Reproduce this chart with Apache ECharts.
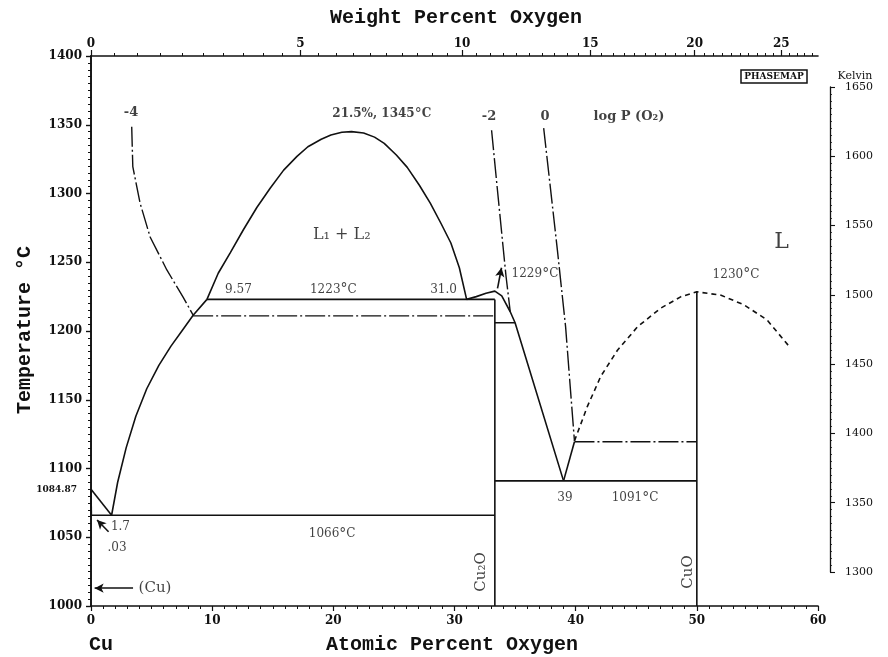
<!DOCTYPE html>
<html><head><meta charset="utf-8">
<script src="https://cdn.jsdelivr.net/npm/echarts@6/dist/echarts.min.js"></script>
<style>html,body{margin:0;padding:0;background:#fff}#c{width:888px;height:657px}</style>
</head><body><div id="c"></div><script>
// ---------- axis ticks ----------
const tempTicks = [1000,1050,1100,1150,1200,1250,1300,1350,1400];
const atomicTicks = [0,10,20,30,40,50,60];
const weightTicks = [0,5,10,15,20,25];
const kelvinTicks = [1300,1350,1400,1450,1500,1550,1600,1650];

// ---------- phase boundaries [at.% O, °C] ----------
const cuLiquidus = [[0,1084.87],[1.7,1066]];
const cuSolidus = [[0,1084.87],[0.03,1066]];
const l1Liquidus = [[1.7,1066],[2.2,1090],[2.9,1115],[3.7,1138],[4.6,1158],[5.6,1175],[6.6,1189],[7.5,1200],[8.43,1211.5],[9.57,1223]];
const miscibilityGap = [[9.57,1223],[10.5,1242],[11.5,1257],[12.6,1274],[13.7,1290],[14.8,1304],[15.9,1317],[17.0,1327],[17.9,1334],[19.0,1339.5],[19.8,1342.5],[20.7,1344.5],[21.5,1345],[22.5,1344],[23.4,1341],[24.2,1336.5],[25.2,1328],[26.1,1319],[27.1,1306],[28.0,1293],[28.9,1278],[29.7,1264],[30.4,1246],[31.0,1223]];
const cu2oLiquidus = [[31.0,1223],[31.8,1225],[32.6,1227.5],[33.33,1229],[33.9,1225.5],[34.6,1214],[35.0,1206],[39,1091]];
const rightLiquidus = [[39,1091],[39.9,1119.5]];
const cuoLiquidus = [[39.9,1120],[40.96,1145],[42.07,1167],[43.45,1186],[45.1,1203],[47.0,1216.5],[48.7,1225],[50.0,1228.5],[52.0,1226],[53.9,1219],[55.8,1208],[57.6,1189]];
const eutectic1066 = [[0,1066],[33.33,1066]];
const monotectic1223 = [[9.57,1223],[33.33,1223]];
const line1206 = [[33.33,1206],[35.0,1206]];
const eutectic1091 = [[33.33,1091],[50,1091]];
const cu2oLine = [[33.33,1000],[33.33,1223]];
const cuoLine = [[50,1000],[50,1229]];
// ---------- oxygen isobars, log P(O2) ----------
const isobarM4 = [[3.36,1348.6],[3.45,1319.5],[4.05,1293],[4.88,1268.4],[6.26,1244.4],[7.6,1224.7],[8.43,1211.5]];
const isobarM4Flat = [[8.43,1211],[33.33,1211]];
const isobarM2 = [[33.06,1346],[33.55,1302],[34.0,1262],[34.25,1240],[34.6,1214]];
const isobar0 = [[37.36,1347.6],[38.49,1259],[39.17,1203],[39.59,1155],[39.9,1120]];
const isobarFlat1119 = [[39.9,1119.5],[50,1119.5]];

// ---------- annotations ----------
const noteTexts = ['21.5%, 1345°C','-4','-2','0','log P (O₂)','L₁ + L₂','9.57','1223°C','31.0','1229°C','1230°C','39','1091°C','1066°C','1.7','.03','(Cu)','L','Cu₂O','CuO'];
const noteAt = [[24.0,1357.8],[3.3,1358.5],[32.85,1356],[37.47,1356],[44.4,1356],[20.7,1270],[12.17,1230],[20.0,1230],[29.1,1230],[36.64,1241.5],[53.23,1241],[39.12,1078.5],[44.9,1078.5],[19.9,1052.4],[2.43,1057.5],[2.15,1042.2],[5.28,1013],[57.0,1264.7],[32.2,1024.7],[49.27,1024.7]];
const boldNotes = ['21.5%, 1345°C','-4','-2','0','log P (O₂)'];
const arrows = [
  [[3.47,1013],[0.3,1013]],
  [[1.45,1054],[0.5,1062.5]],
  [[33.55,1231],[33.88,1246]]
];

const SERIF = "'DejaVu Serif','Liberation Serif',serif";
const MONO = "'Liberation Mono','DejaVu Sans Mono',monospace";
const INK = '#111';

const wtToAt = w => (w/16)/((w/16)+((100-w)/63.546))*100;
const atToWt = a => 16*a/(16*a+63.546*(100-a))*100;
const wtMinor = [];
for (let w = 0; w <= 27; w += 0.5) wtMinor.push(wtToAt(w));

function degRich(t, bold){
  const d = bold ? 'db' : 'd';
  if (t.indexOf('°') < 0) return t;
  const p = t.split('°');
  return '{' + d + '|' + p[0] + '}{g|°}{' + d + '|' + p[1] + '}';
}

const chart = echarts.init(document.getElementById('c'), null, {renderer:'canvas'});
const DASHDOT = [20,3,2,3];
function line(data, type, w){
  return {type:'line', xAxisIndex:0, yAxisIndex:0, data:data, symbol:'none', showSymbol:false, silent:true,
    animation:false, lineStyle:{color:INK, width:w||1.6, type:type||'solid'}, z:3};
}
const series = [
  line(cuLiquidus), line(cuSolidus), line(l1Liquidus), line(miscibilityGap), line(cu2oLiquidus),
  line(rightLiquidus), line(cuoLiquidus,[5,4]), line(eutectic1066), line(monotectic1223), line(line1206),
  line(eutectic1091), line(cu2oLine), line(cuoLine),
  line(isobarM4,DASHDOT,1.4), line(isobarM4Flat,DASHDOT,1.4), line(isobarM2,DASHDOT,1.4),
  line(isobar0,DASHDOT,1.4), line(isobarFlat1119,DASHDOT,1.4)
];
series[7].markLine = {silent:true, animation:false, symbol:['none','arrow'], symbolSize:[7,9],
  label:{show:false}, lineStyle:{color:INK, type:'solid', width:1.6},
  data: arrows.map(a => [{coord:a[0]},{coord:a[1]}])};

const noteData = noteTexts.map((t,i) => {
  const item = {value:noteAt[i], name:t};
  if (t === 'Cu₂O' || t === 'CuO') item.label = {rotate:90, fontSize:15};
  if (t === 'L') item.label = {fontSize:22};
  if (t === 'L₁ + L₂') item.label = {fontSize:16};
  if (t === '(Cu)') item.label = {fontSize:15};
  if (t === '-4' || t === '-2' || t === '0') item.label = {fontSize:13, fontWeight:'bold'};
  if (t === 'log P (O₂)') item.label = {fontSize:13, fontWeight:'bold'};
  return item;
});
series.push({type:'scatter', xAxisIndex:0, yAxisIndex:0, data:noteData, symbolSize:0, silent:true, animation:false, z:5,
  label:{show:true, position:'inside', color:INK, fontFamily:SERIF, fontSize:12,
    formatter: p => degRich(p.name, boldNotes.indexOf(p.name) >= 0),
    rich:{d:{fontFamily:SERIF, fontSize:12, color:INK},
          db:{fontFamily:SERIF, fontSize:12, fontWeight:'bold', color:INK},
          g:{fontFamily:SERIF, fontSize:14, color:INK}}}});

const tickFont = {color:INK, fontFamily:SERIF, fontSize:12, fontWeight:'bold'};
const option = {
  backgroundColor:'#fff',
  animation:false,
  grid:[
    {left:91, top:56, width:727, height:550, show:false},
    {left:830, top:87, width:10, height:485, show:false}
  ],
  xAxis:[
    {gridIndex:0, type:'value', position:'bottom', min:0, max:60, interval:10,
      axisLine:{lineStyle:{color:INK, width:1.6}}, splitLine:{show:false},
      axisTick:{length:5, lineStyle:{color:INK, width:1.2}},
      minorTick:{show:true, splitNumber:10, length:3, lineStyle:{color:INK, width:1}},
      axisLabel:Object.assign({margin:9, customValues:atomicTicks, formatter: v => String(v)}, tickFont)},
    {gridIndex:0, type:'value', position:'top', min:0, max:60,
      axisLine:{lineStyle:{color:INK, width:1.6}}, splitLine:{show:false},
      axisTick:{show:true, length:6, customValues:weightTicks.map(wtToAt), lineStyle:{color:INK, width:1.2}},
      axisLabel:Object.assign({margin:6, customValues:weightTicks.map(wtToAt),
        formatter: v => String(Math.round(atToWt(v)))}, tickFont)},
    {gridIndex:0, type:'value', position:'top', min:0, max:60,
      axisLine:{show:false}, splitLine:{show:false}, axisLabel:{show:false},
      axisTick:{show:true, length:3, customValues:wtMinor, lineStyle:{color:INK, width:1}}},
    {gridIndex:1, type:'value', min:0, max:1, show:false}
  ],
  yAxis:[
    {gridIndex:0, type:'value', position:'left', min:1000, max:1400, interval:50,
      axisLine:{show:true, lineStyle:{color:INK, width:1.6}}, splitLine:{show:false},
      axisTick:{show:true, length:5, lineStyle:{color:INK, width:1.2}},
      minorTick:{show:true, splitNumber:10, length:3, lineStyle:{color:INK, width:1}},
      axisLabel:Object.assign({margin:9, customValues:tempTicks, formatter: v => String(v)}, tickFont)},
    {gridIndex:0, type:'value', position:'right', min:1000, max:1400, interval:50,
      axisLine:{show:true, lineStyle:{color:INK, width:1.6}}, splitLine:{show:false},
      axisTick:{show:true, inside:true, length:5, lineStyle:{color:INK, width:1.2}},
      minorTick:{show:true, splitNumber:10, length:3, lineStyle:{color:INK, width:1}},
      axisLabel:{show:false}},
    {gridIndex:1, type:'value', position:'right', min:1300, max:1650, interval:50,
      axisLine:{show:true, lineStyle:{color:INK, width:1.3}}, splitLine:{show:false},
      axisTick:{show:true, length:5, lineStyle:{color:INK, width:1.1}},
      minorTick:{show:true, splitNumber:10, length:2, lineStyle:{color:INK, width:0.8}},
      axisLabel:{color:INK, fontFamily:SERIF, fontSize:11, margin:5,
        customValues:kelvinTicks, formatter: v => String(v)}}
  ],
  graphic:[
    {type:'text', x:456, y:18, style:{text:'Weight Percent Oxygen', font:'bold 20px ' + MONO, fill:INK, align:'center', verticalAlign:'middle', textAlign:'center', textVerticalAlign:'middle'}},
    {type:'text', x:452, y:645, style:{text:'Atomic Percent Oxygen', font:'bold 20px ' + MONO, fill:INK, align:'center', verticalAlign:'middle', textAlign:'center', textVerticalAlign:'middle'}},
    {type:'text', x:101, y:645, style:{text:'Cu', font:'bold 20px ' + MONO, fill:INK, align:'center', verticalAlign:'middle', textAlign:'center', textVerticalAlign:'middle'}},
    {type:'text', x:25, y:330, rotation:Math.PI/2, style:{text:'Temperature °C', font:'bold 20px ' + MONO, fill:INK, align:'center', verticalAlign:'middle', textAlign:'center', textVerticalAlign:'middle'}},
    {type:'text', x:77, y:490, style:{text:'1084.87', font:'bold 9px ' + SERIF, fill:INK, align:'right', verticalAlign:'middle', textAlign:'right', textVerticalAlign:'middle'}},
    {type:'text', x:855, y:76, style:{text:'Kelvin', font:'11px ' + SERIF, fill:INK, align:'center', verticalAlign:'middle', textAlign:'center', textVerticalAlign:'middle'}},
    {type:'rect', shape:{x:741, y:70, width:66, height:13}, style:{fill:'#fff', stroke:INK, lineWidth:1.5}},
    {type:'text', x:774, y:77, style:{text:'PHASEMAP', font:'bold 9px ' + SERIF, fill:INK, align:'center', verticalAlign:'middle', textAlign:'center', textVerticalAlign:'middle'}}
  ],
  series: series
};
chart.setOption(option);
</script></body></html>
